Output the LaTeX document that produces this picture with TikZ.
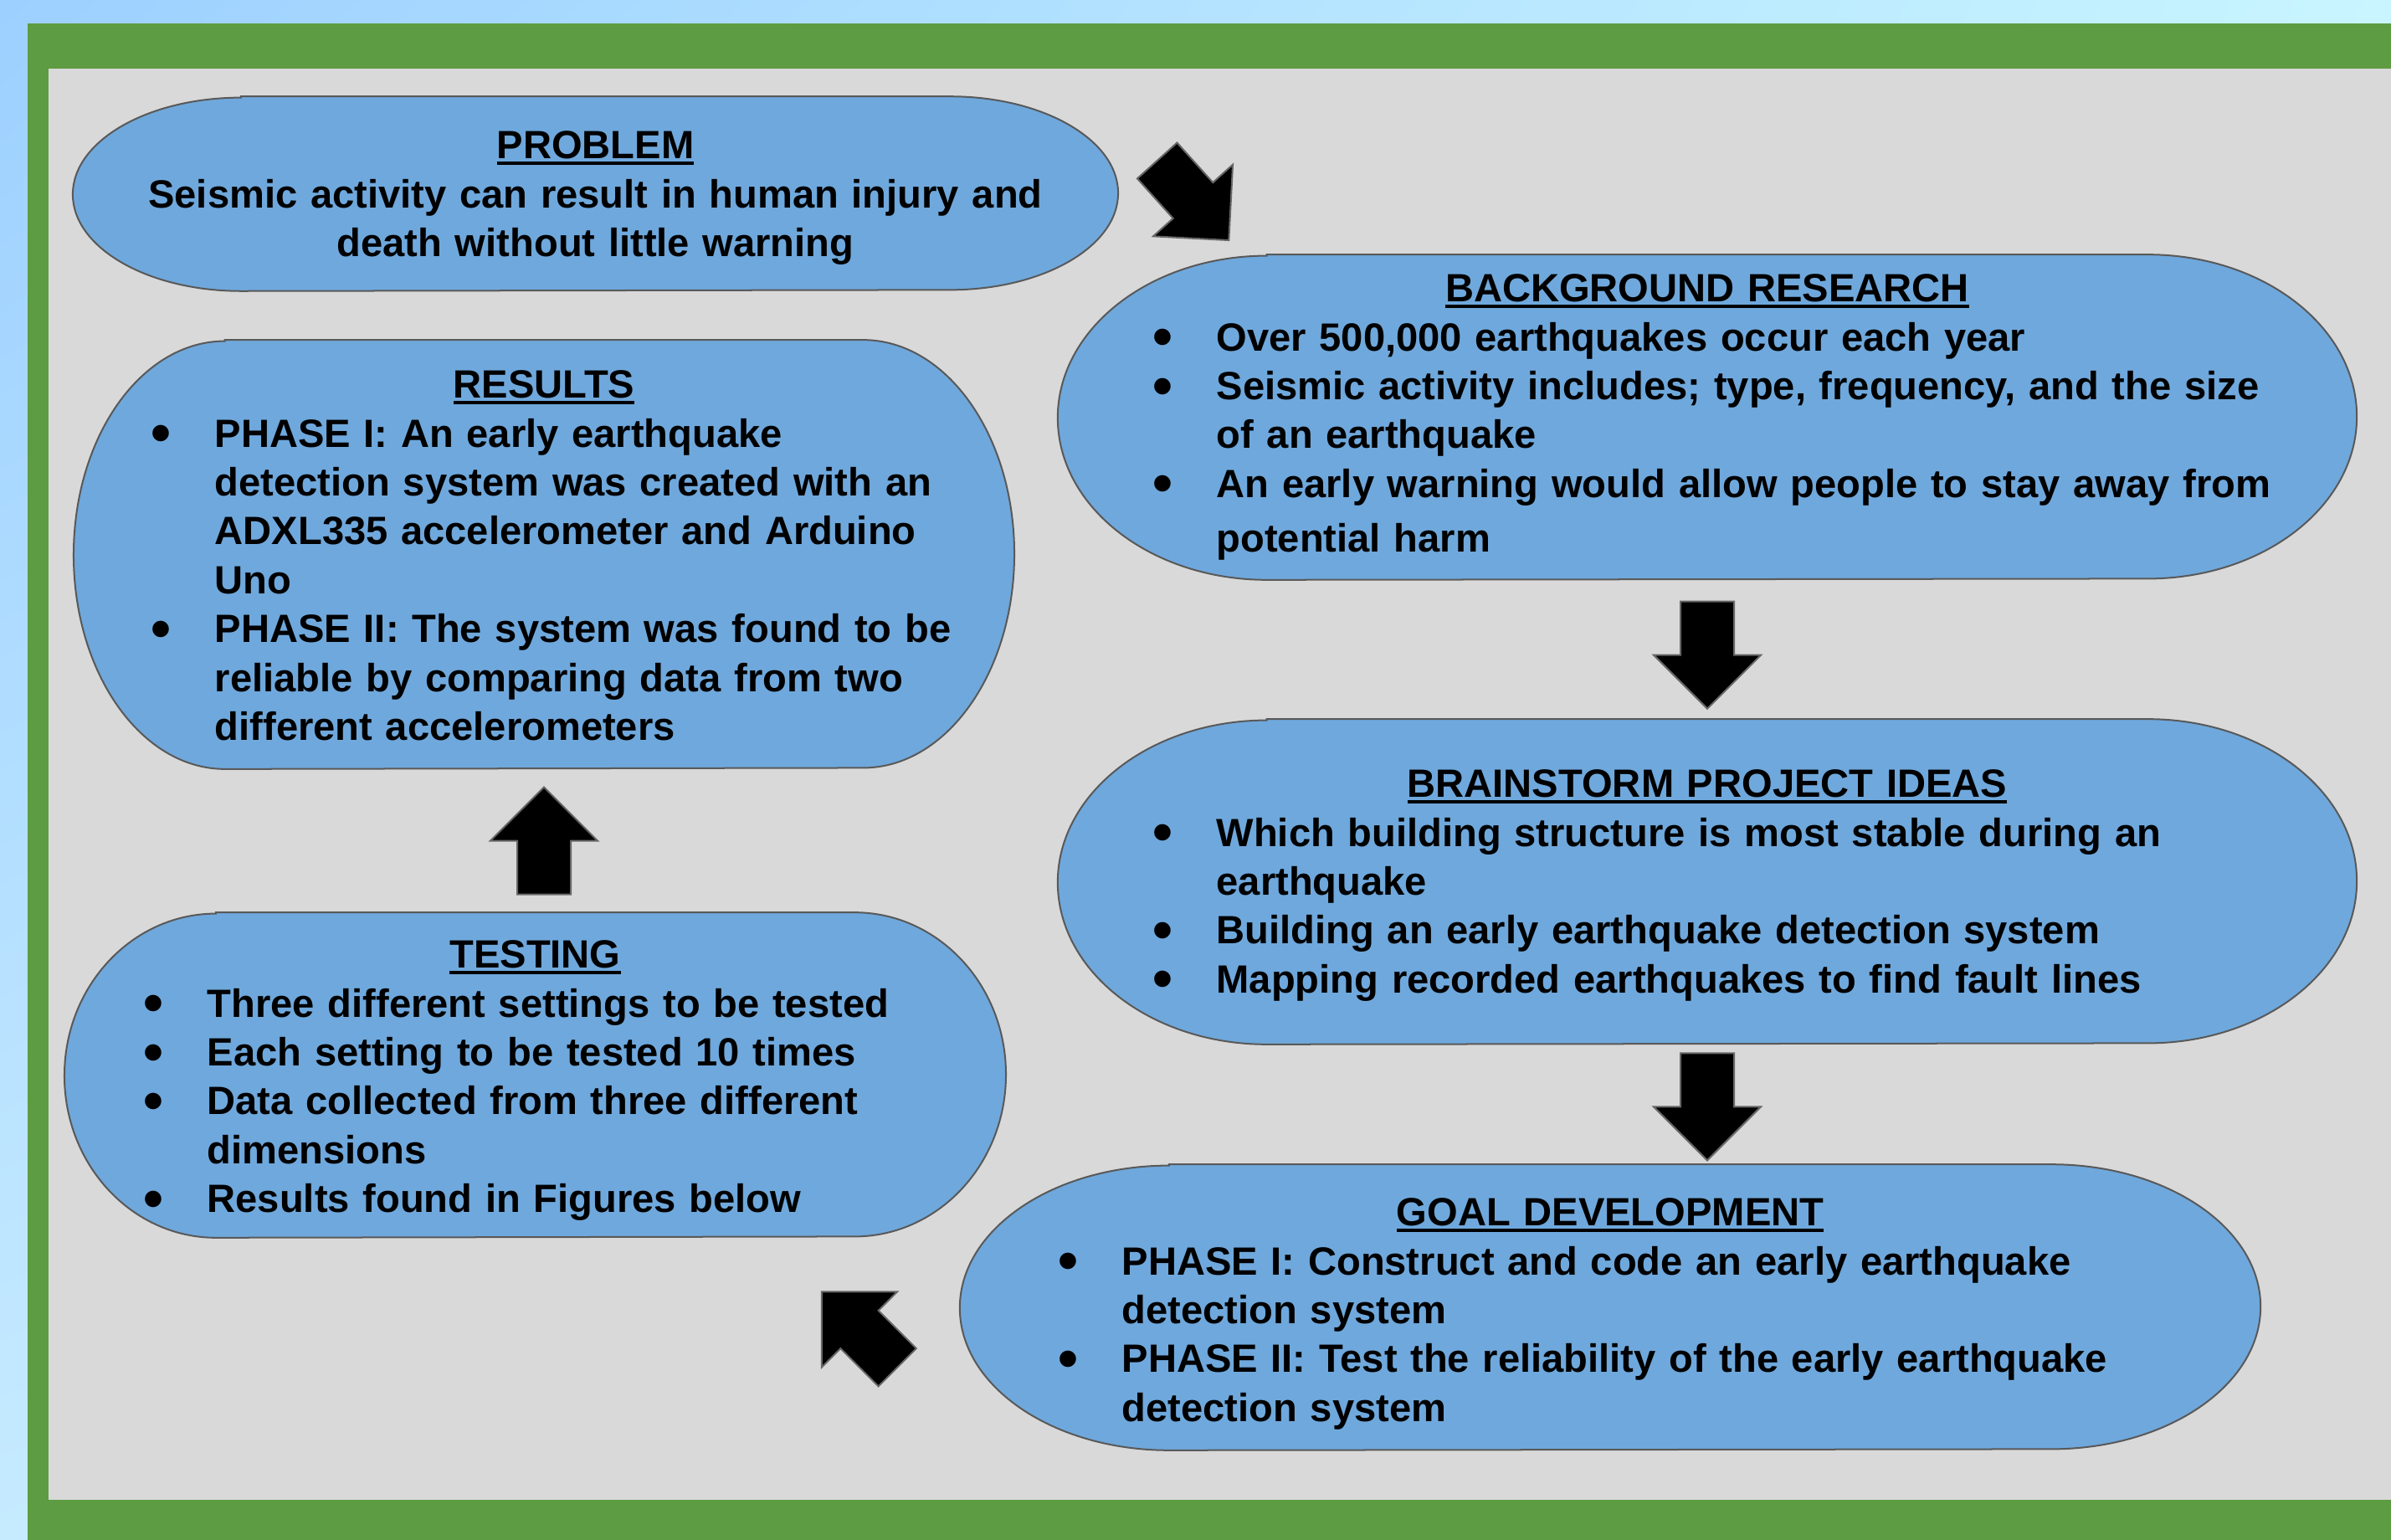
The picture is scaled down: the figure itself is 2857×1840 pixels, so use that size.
\documentclass[tikz,border=0pt]{standalone}
\usepackage{fontspec}
\setmainfont{Liberation Sans}
\usepackage{graphicx}
\usetikzlibrary{calc,shadings}

\definecolor{skytop}{HTML}{9DD0FF}
\definecolor{skyright}{HTML}{C8F5FF}
\definecolor{skyleft}{HTML}{C6EBFF}
\definecolor{skylow}{HTML}{D6FBFF}
\definecolor{framegreen}{HTML}{5D9C42}
\definecolor{panelgray}{HTML}{D9D9D9}
\definecolor{boxblue}{HTML}{6FA8DC}
\definecolor{boxedge}{HTML}{595959}
\definecolor{arrowedge}{HTML}{666666}

\newlength{\bulind}\setlength{\bulind}{0.76cm}
\newcommand{\bmark}{\smash{\raisebox{-0.14em}{\scalebox{1.45}{\textbullet}}}}
\newcommand{\bitem}[1]{\par\noindent\makebox[\bulind][l]{\bmark}\mbox{#1}}
\newcommand{\bmore}[1]{\par\noindent\hspace*{\bulind}\mbox{#1}}
\newcommand{\ttl}[1]{\setbox0\hbox{#1}\rlap{\rule[-0.15em]{\wd0}{0.09em}}\box0}

% terminator box: name, centre, width, height (cm)
\newcommand{\termbox}[4]{%
  \node[boxnode, minimum width=#3cm, minimum height=#4cm] (#1) at #2 {};
  \pgfmathsetmacro{\termrx}{0.161*#3}%
  \pgfmathsetmacro{\termry}{#4/2}%
  \draw[boxline] ([xshift=\termrx cm]#1.north west) -- ([xshift=-\termrx cm]#1.north east)
    arc[start angle=90, end angle=-90, x radius=\termrx cm, y radius=\termry cm]
    -- ([xshift=\termrx cm]#1.south west)
    arc[start angle=270, end angle=90, x radius=\termrx cm, y radius=\termry cm] -- cycle;
}

\begin{document}
\begin{tikzpicture}[x=0.01cm,y=0.01cm,
    boxnode/.style={inner sep=0pt, draw=none},
    boxline/.style={fill=boxblue, draw=boxedge, line width=0.02cm},
    arrowfill/.style={fill=black, draw=arrowedge, line width=0.02cm},
    txt/.style={anchor=north, inner sep=0pt, text width=#1, align=left,
      font={\fontsize{13.4pt}{16.6pt}\selectfont\bfseries}},
    txtc/.style={anchor=north, inner sep=0pt, text width=#1, align=center,
      font={\fontsize{13.4pt}{16.6pt}\selectfont\bfseries}},
    blockarr/.pic={\draw[arrowfill] (-64,-32) -- (0,-32) -- (0,-64) -- (64,0)
      -- (0,64) -- (0,32) -- (-64,32) -- cycle;}]
  \useasboundingbox (0,0) rectangle (2857,-1840);
  % sky, frame and panel
  \shade[upper left=skytop, upper right=skyright, lower left=skyleft, lower right=skylow]
    (0,0) rectangle (2857,-1840);
  \fill[framegreen] (33,-28) rectangle (2857,-1840);
  \fill[panelgray] (58,-82) rectangle (2857,-1792);

  % boxes
  \termbox{prob}{(711.5,-231.5)}{12.47}{2.31}
  \termbox{bg}{(2040,-498.5)}{15.50}{3.87}
  \termbox{res}{(650,-662.5)}{11.22}{5.11}
  \termbox{brain}{(2040,-1053.5)}{15.50}{3.87}
  \termbox{goal}{(1924,-1562)}{15.52}{3.40}
  \termbox{test}{(639.5,-1284.5)}{11.23}{3.87}

  % block arrows
  \pic[rotate=-48] at (1425.5,-239.5) {blockarr};
  \pic[rotate=-90] at ($(bg.south)!0.54!(brain.north)$) {blockarr};
  \pic[rotate=-90] at ($(brain.south)!0.52!(brain.south|-goal.north)$) {blockarr};
  \pic[rotate=90] at ($(res.south)!0.5!(res.south|-test.north)$) {blockarr};
  \pic[rotate=135] at (1027,-1588.5) {blockarr};

  % texts
  \node[txtc=12cm] (probtxt) at ($(prob.north)+(0,-41)$)
    {\ttl{PROBLEM}\\Seismic activity can result in human injury and\\death without little warning};
  \node[txt=13.24cm] (bgtxt) at ($(bg.north)+(0,-23)$) {%
    \centerline{\ttl{BACKGROUND RESEARCH}}
    \bitem{Over 500,000 earthquakes occur each year}
    \bitem{Seismic activity includes; type, frequency, and the size}
    \bmore{of an earthquake}
    \bitem{An early warning would allow people to stay away from}
    \par\vspace{0.07cm}
    \bmore{potential harm}};
  \node[txt=9.38cm] (restxt) at ($(res.north)+(0,-36)$) {%
    \centerline{\ttl{RESULTS}}
    \bitem{PHASE I: An early earthquake}
    \bmore{detection system was created with an}
    \bmore{ADXL335 accelerometer and Arduino}
    \bmore{Uno}
    \bitem{PHASE II: The system was found to be}
    \bmore{reliable by comparing data from two}
    \bmore{different accelerometers}};
  \node[txt=13.24cm] (braintxt) at ($(brain.north)+(0,-60)$) {%
    \centerline{\ttl{BRAINSTORM PROJECT IDEAS}}
    \bitem{Which building structure is most stable during an}
    \bmore{earthquake}
    \bitem{Building an early earthquake detection system}
    \bitem{Mapping recorded earthquakes to find fault lines}};
  \node[txt=13.18cm] (goaltxt) at ($(goal.north)+(0,-40)$) {%
    \centerline{\ttl{GOAL DEVELOPMENT}}
    \bitem{PHASE I: Construct and code an early earthquake}
    \bmore{detection system}
    \bitem{PHASE II: Test the reliability of the early earthquake}
    \bmore{detection system}};
  \node[txt=9.35cm] (testtxt) at ($(test.north)+(0,-33)$) {%
    \centerline{\ttl{TESTING}}
    \bitem{Three different settings to be tested}
    \bitem{Each setting to be tested 10 times}
    \bitem{Data collected from three different}
    \bmore{dimensions}
    \bitem{Results found in Figures below}};
\end{tikzpicture}
\end{document}
